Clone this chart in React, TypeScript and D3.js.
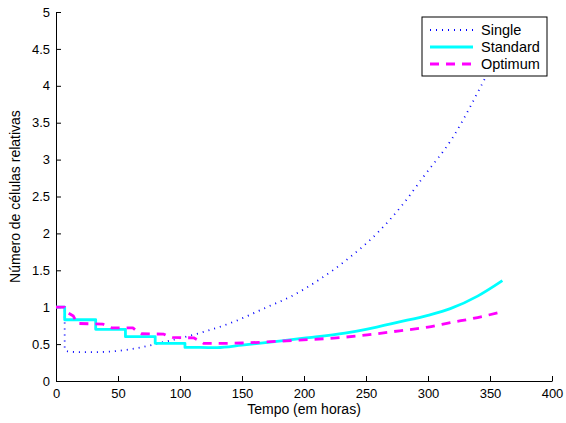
import { useEffect, useRef } from 'react';
import * as d3 from 'd3';

// time (hours) / relative cell count
const singleT = [0, 7, 7, 10, 20, 30, 45, 60, 70, 85, 100, 120, 143, 170, 190, 212, 235, 260, 280, 296, 320, 346, 360];
const singleV = [1, 1, 0.42, 0.40, 0.39, 0.39, 0.40, 0.43, 0.46, 0.52, 0.58, 0.67, 0.80, 1.0, 1.15, 1.37, 1.65, 2.02, 2.40, 2.76, 3.30, 4.10, 4.55];

const standardT = [0, 7, 7, 32, 32, 56, 56, 80, 80, 104, 104, 116, 130, 150, 180, 200, 233, 250, 277, 300, 318, 340, 360];
const standardV = [1, 1, 0.83, 0.83, 0.70, 0.70, 0.60, 0.60, 0.51, 0.51, 0.455, 0.455, 0.452, 0.485, 0.54, 0.58, 0.65, 0.70, 0.80, 0.89, 0.98, 1.15, 1.36];

const optimumT = [0, 7, 10, 14, 17, 38, 42, 45, 62, 65, 69, 87, 90, 94, 111, 115, 119, 130, 150, 186, 230, 251, 277, 300, 318, 340, 360];
const optimumV = [1, 1, 0.92, 0.88, 0.78, 0.77, 0.74, 0.72, 0.72, 0.68, 0.64, 0.635, 0.61, 0.59, 0.585, 0.55, 0.51, 0.51, 0.515, 0.545, 0.59, 0.625, 0.68, 0.73, 0.79, 0.86, 0.94];

// index where each series stops stepping and becomes a smooth growth curve
const smoothFrom = [2, 10, 16];

const xTicks = [0, 50, 100, 150, 200, 250, 300, 350, 400];
const yTicks = [0, 0.5, 1, 1.5, 2, 2.5, 3, 3.5, 4, 4.5, 5];

const seriesNames = ['Single', 'Standard', 'Optimum'];

function App() {
  const svgRef = useRef<SVGSVGElement | null>(null);

  useEffect(() => {
    const width = 566;
    const height = 423;
    const margin = { top: 12, right: 14, bottom: 42, left: 56 };
    const font = 'Liberation Sans, Arial, Helvetica, sans-serif';

    const svg = d3.select(svgRef.current);
    svg.selectAll('*').remove();
    svg.attr('width', width).attr('height', height);

    const x = d3.scaleLinear().domain([0, 400]).range([margin.left, width - margin.right]);
    const y = d3.scaleLinear().domain([0, 5]).range([height - margin.bottom, margin.top]);

    const styles = [
      { color: '#0000ff', width: 1.8, dash: '1 5' },
      { color: '#00ffff', width: 2.8, dash: null },
      { color: '#ff00ff', width: 2.8, dash: '9 7' },
    ];

    const series = [
      d3.zip(singleT, singleV),
      d3.zip(standardT, standardV),
      d3.zip(optimumT, optimumV),
    ];

    const stepLine = d3.line<number[]>().x(d => x(d[0])).y(d => y(d[1]));
    const smoothLine = d3.line<number[]>().x(d => x(d[0])).y(d => y(d[1])).curve(d3.curveMonotoneX);

    // axes (ticks pointing inward, no box)
    const xAxis = d3.axisBottom(x).tickValues(xTicks).tickSizeInner(-5).tickSizeOuter(0).tickPadding(8);
    const gx = svg.append('g')
      .attr('transform', `translate(0, ${y(0)})`)
      .call(xAxis);
    gx.selectAll('text').attr('font-size', 13).attr('font-family', font).attr('fill', '#000');

    const yAxis = d3.axisLeft(y).tickValues(yTicks).tickSizeInner(-5).tickSizeOuter(0).tickPadding(6)
      .tickFormat(d => String(d));
    const gy = svg.append('g')
      .attr('transform', `translate(${x(0)}, 0)`)
      .call(yAxis);
    gy.selectAll('text').attr('font-size', 13).attr('font-family', font).attr('fill', '#000');

    svg.selectAll('.domain, .tick line').attr('stroke', '#000');

    // curves: straight steps first, then a smooth tail, kept in one path so the dashes run on
    series.forEach((pts, i) => {
      const head = stepLine(pts.slice(0, smoothFrom[i] + 1)) || '';
      const tail = (smoothLine(pts.slice(smoothFrom[i])) || '').replace(/^M[^LC]*/, '');
      svg.append('path')
        .attr('d', head + tail)
        .attr('fill', 'none')
        .attr('stroke', styles[i].color)
        .attr('stroke-width', styles[i].width)
        .attr('stroke-dasharray', styles[i].dash)
        .attr('stroke-linejoin', 'round');
    });

    // axis labels
    svg.append('text')
      .attr('x', (x(0) + x(400)) / 2)
      .attr('y', 414)
      .attr('text-anchor', 'middle')
      .attr('font-size', 14)
      .attr('font-family', font)
      .text('Tempo (em horas)');

    svg.append('text')
      .attr('transform', `translate(20, ${(y(0) + y(5)) / 2}) rotate(-90)`)
      .attr('text-anchor', 'middle')
      .attr('font-size', 14)
      .attr('font-family', font)
      .text('Número de células relativas');

    // legend
    const lg = svg.append('g').attr('transform', 'translate(422, 17)');
    lg.append('rect')
      .attr('width', 125)
      .attr('height', 59)
      .attr('fill', '#fff')
      .attr('stroke', '#000')
      .attr('stroke-width', 1);
    seriesNames.forEach((name, i) => {
      const ry = 13 + i * 17;
      lg.append('line')
        .attr('x1', 8).attr('x2', 51)
        .attr('y1', ry).attr('y2', ry)
        .attr('stroke', styles[i].color)
        .attr('stroke-width', styles[i].width)
        .attr('stroke-dasharray', styles[i].dash);
      lg.append('text')
        .attr('x', 59)
        .attr('y', ry)
        .attr('dy', '0.35em')
        .attr('font-size', 14.5)
        .attr('font-family', font)
        .text(name);
    });
  }, []);

  return (
    <svg ref={svgRef} style={{ position: 'absolute', left: 0, top: 0, background: '#fff' }}></svg>
  );
}

export default App;
